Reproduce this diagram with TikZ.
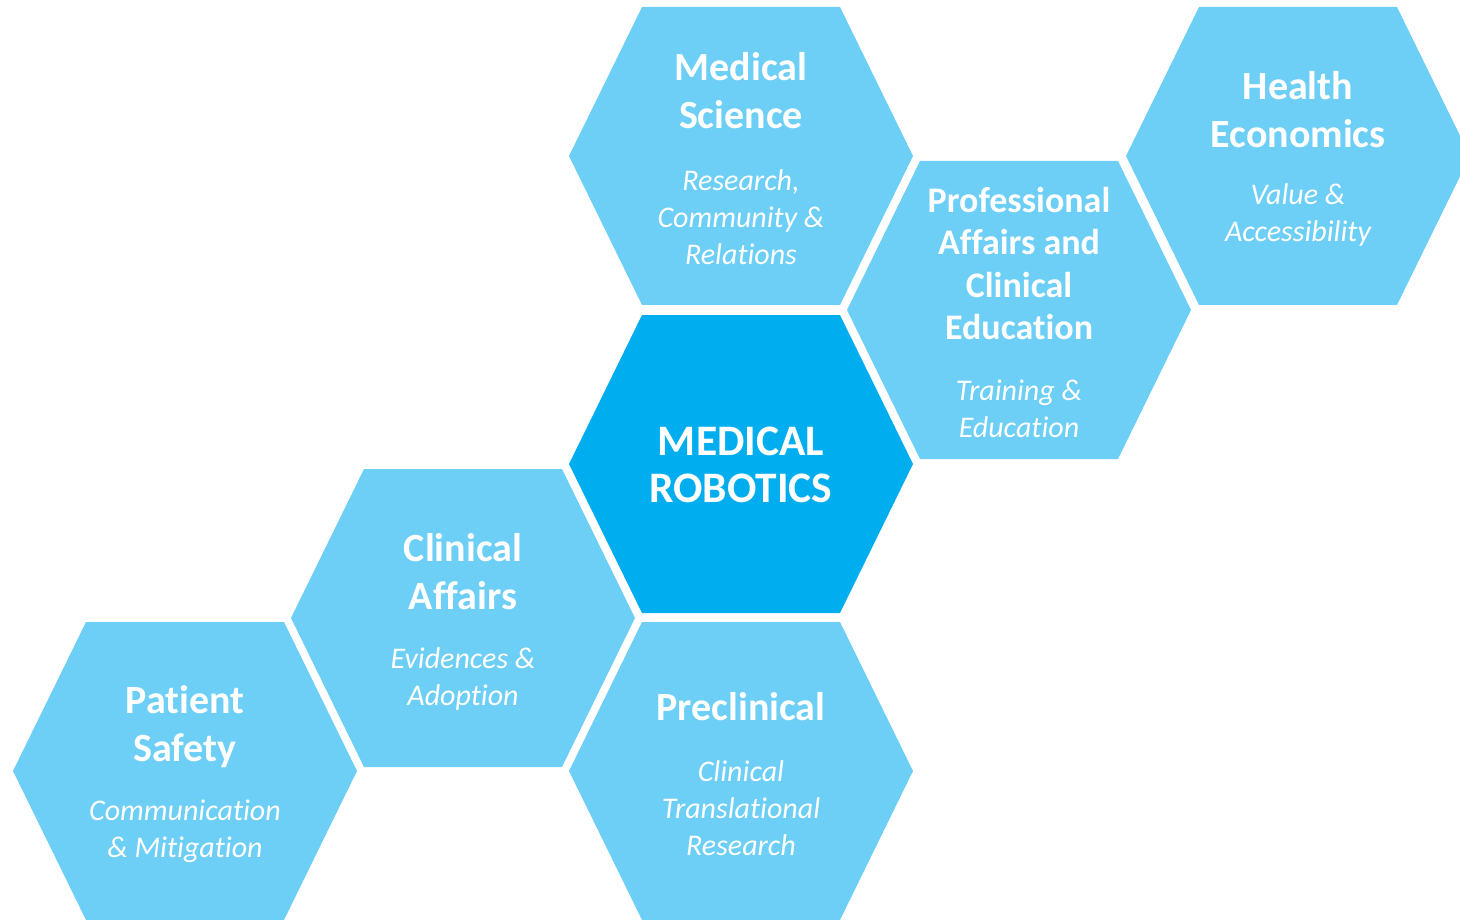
\documentclass[tikz,border=0pt]{standalone}
\usepackage{fontspec}
\setmainfont[Ligatures={NoCommon}]{Carlito}
\definecolor{hexlight}{HTML}{6DCFF6}
\definecolor{hexdark}{HTML}{00AEEF}
\newcommand\hexat[3]{\fill[#3] (#1-172,#2) -- (#1-99,#2-149) -- (#1+99,#2-149) -- (#1+172,#2) -- (#1+99,#2+149) -- (#1-99,#2+149) -- cycle;}
\tikzset{
  hextitle/.style={text=white, align=center, inner sep=0pt, font=\fontsize{40}{48}\selectfont\bfseries},
  hexsmalltitle/.style={text=white, align=center, inner sep=0pt, font=\fontsize{36}{42.5}\selectfont\bfseries},
  hexcenter/.style={text=white, align=center, inner sep=0pt, font=\fontsize{43.5}{47}\selectfont\bfseries},
  hexsub/.style={text=white, align=center, inner sep=0pt, font=\fontsize{30}{37}\selectfont\itshape},
}
\begin{document}
\begin{tikzpicture}[x=1pt,y=-1pt]
\useasboundingbox (0,0) rectangle (1460,920);
\clip (0,0) rectangle (1460,920);
\hexat{741}{156}{hexlight}
\hexat{1298}{156}{hexlight}
\hexat{1019}{310}{hexlight}
\hexat{741}{464}{hexdark}
\hexat{463}{618}{hexlight}
\hexat{185}{771}{hexlight}
\hexat{741}{771}{hexlight}

\node[hextitle] (msT) at (741,91) {Medical\\Science};
\node[hexsub] (msS) at (741,217) {Research,\\Community \&\\Relations};

\node[hextitle] (heT) at (1298,109.5) {Health\\Economics};
\node[hexsub] (heS) at (1298,215.5) {Value \&\\Accessibility};

\node[hexsmalltitle] (paT) at (1019,263.5) {Professional\\Affairs and\\Clinical\\Education};
\node[hexsub] (paS) at (1019,408.5) {Training \&\\Education};

\node[hexcenter] (mr) at (741,464.5) {MEDICAL\\ROBOTICS};

\node[hextitle] (caT) at (463,572) {Clinical\\Affairs};
\node[hexsub] (caS) at (463,678.5) {Evidences \&\\Adoption};

\node[hextitle] (psT) at (185,726.5) {Patient\\Safety};
\node[hexsub] (psS) at (185,831.5) {Communication\\\& Mitigation};

\node[hextitle] (pcT) at (741,707) {Preclinical};
\node[hexsub] (pcS) at (741,808.5) {Clinical\\Translational\\Research};
\end{tikzpicture}
\end{document}
